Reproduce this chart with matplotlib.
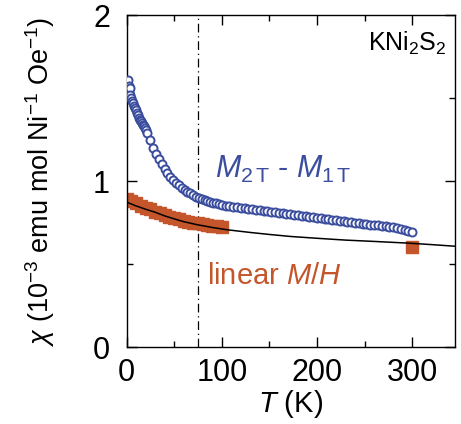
import matplotlib
matplotlib.use("Agg")
import matplotlib.pyplot as plt
from matplotlib.ticker import MultipleLocator

plt.rcParams['font.family'] = ['Liberation Sans', 'DejaVu Sans']
plt.rcParams['mathtext.fontset'] = 'custom'
plt.rcParams['mathtext.rm'] = 'Liberation Sans'
plt.rcParams['mathtext.it'] = 'Liberation Sans:italic'
plt.rcParams['mathtext.bf'] = 'Liberation Sans:bold'

# M(2T) - M(1T) data (blue open circles)
T_diff = [2, 2.5, 3, 3.5, 4, 5, 6, 7, 8, 9, 10, 11, 12, 13, 14, 15, 16, 17, 18, 19, 20,
          22, 25, 28, 31, 34, 37, 40, 43, 46, 49, 52, 55, 58, 61, 64, 67, 70, 73, 76, 79,
          82, 85, 88, 91, 94, 97, 100, 104, 108, 112, 116, 120, 124, 128, 132, 136, 140,
          144, 148, 152, 156, 160, 164, 168, 172, 176, 180, 184, 188, 192, 196, 200, 204,
          208, 212, 216, 220, 224, 228, 232, 236, 240, 244, 248, 252, 256, 260, 264, 268,
          272, 276, 280, 284, 288, 292, 296, 300]
chi_diff = [1.61, 1.57, 1.54, 1.56, 1.52, 1.50, 1.48, 1.47, 1.45, 1.44, 1.43, 1.41, 1.40,
            1.38, 1.37, 1.36, 1.35, 1.34, 1.33, 1.32, 1.31, 1.29, 1.25, 1.20, 1.16, 1.13,
            1.10, 1.075, 1.05, 1.025, 1.005, 0.99, 0.975, 0.96, 0.945, 0.935, 0.925, 0.915,
            0.905, 0.90, 0.893, 0.886, 0.88, 0.875, 0.87, 0.865, 0.86, 0.856, 0.852, 0.848,
            0.845, 0.842, 0.838, 0.835, 0.832, 0.829, 0.826, 0.823, 0.82, 0.817, 0.814,
            0.811, 0.808, 0.805, 0.802, 0.799, 0.796, 0.793, 0.79, 0.787, 0.784, 0.781,
            0.778, 0.775, 0.772, 0.769, 0.766, 0.763, 0.76, 0.757, 0.754, 0.751, 0.748,
            0.745, 0.742, 0.74, 0.737, 0.735, 0.732, 0.729, 0.726, 0.723, 0.72, 0.716,
            0.712, 0.705, 0.698, 0.69]

# linear M/H data (orange squares)
T_lin = [1, 5, 10, 15, 20, 25, 30, 35, 40, 45, 50, 55, 60, 65, 70, 75, 80, 85, 90, 95, 100, 300]
chi_lin = [0.89, 0.88, 0.865, 0.85, 0.84, 0.83, 0.815, 0.805, 0.795, 0.785, 0.78, 0.77,
           0.762, 0.755, 0.75, 0.745, 0.74, 0.735, 0.73, 0.727, 0.724, 0.60]

# fit curve (black line)
T_fit = [0, 10, 20, 30, 40, 50, 60, 74, 90, 106, 130, 150, 172, 200, 230, 260, 295, 320, 345]
chi_fit = [0.873, 0.85, 0.83, 0.812, 0.79, 0.772, 0.755, 0.737, 0.72, 0.706, 0.69, 0.678,
           0.666, 0.655, 0.644, 0.636, 0.626, 0.617, 0.607]

T_mark = 75

blue = '#3a4d9e'
orange = '#c5552a'

fig = plt.figure(figsize=(4.61, 4.24), dpi=100)
ax = fig.add_axes([0.2745, 0.1816, 0.7125, 0.783])

ax.plot(T_fit, chi_fit, color='black', lw=1.1, zorder=3)
ax.plot(T_lin, chi_lin, ls='none', marker='s', ms=8.5, color=orange, mec=orange, zorder=2)
ax.plot(T_diff, chi_diff, ls='none', marker='o', ms=5.8, mfc='white', mec=blue, mew=1.4, zorder=4)
ax.axvline(T_mark, color='black', lw=0.9, ls=(0, (7, 3, 1, 3)), zorder=1)

ax.set_xlim(0, 345)
ax.set_ylim(0, 2)
ax.xaxis.set_major_locator(MultipleLocator(100))
ax.xaxis.set_minor_locator(MultipleLocator(50))
ax.yaxis.set_major_locator(MultipleLocator(1))
ax.yaxis.set_minor_locator(MultipleLocator(0.5))
ax.tick_params(which='both', direction='in', top=True, right=True, width=1.0)
ax.tick_params(which='major', length=7, labelsize=22)
ax.tick_params(axis='x', which='major', pad=8)
ax.tick_params(axis='y', which='major', pad=12)
ax.tick_params(which='minor', length=4)
for s in ax.spines.values():
    s.set_linewidth(1.0)

ax.set_xlabel(r'$T$ (K)', fontsize=21, labelpad=0)
ax.set_ylabel(r'$\chi$ (10$^{-3}$ emu mol Ni$^{-1}$ Oe$^{-1}$)', fontsize=19.5, labelpad=26)

ax.text(0.975, 0.955, r'KNi$_2$S$_2$', transform=ax.transAxes, ha='right', va='top', fontsize=18)
ax.text(0.27, 0.51, r'$M_{2\,\mathrm{T}}$ - $M_{1\,\mathrm{T}}$', transform=ax.transAxes,
        ha='left', va='baseline', fontsize=22, color=blue)
ax.text(0.245, 0.19, r'linear $M/H$', transform=ax.transAxes,
        ha='left', va='baseline', fontsize=21, color=orange)

fig.savefig('out.png', dpi=100)
